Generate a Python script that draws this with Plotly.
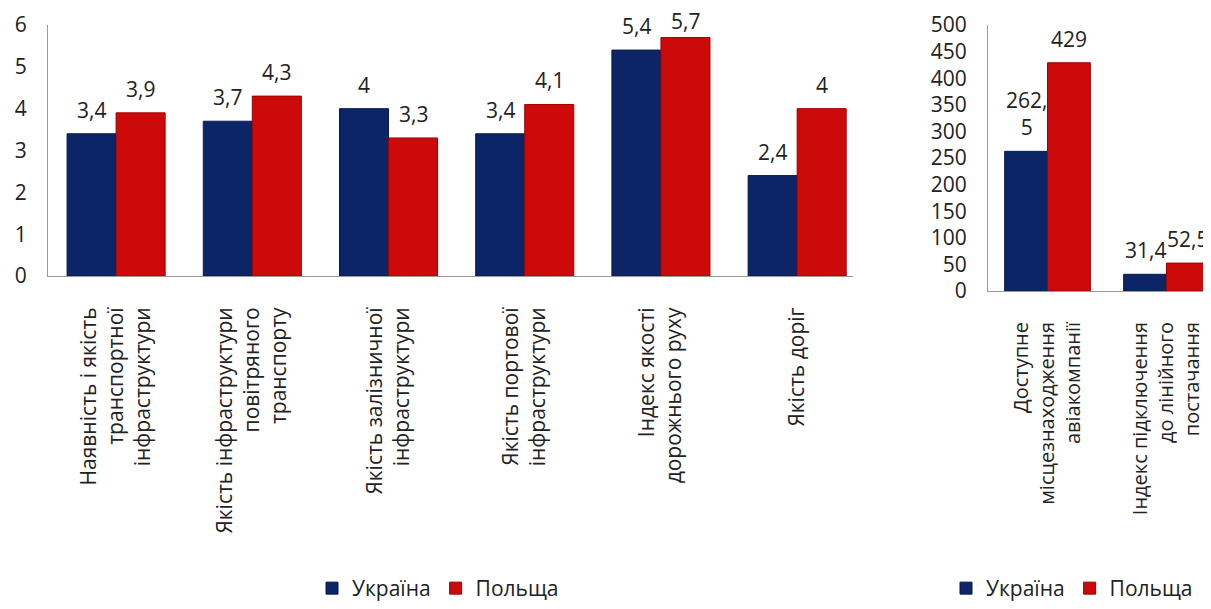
import plotly.graph_objects as go

# ---- data ----
left_categories = [
    "Наявність і якість<br>транспортної<br>інфраструктури",
    "Якість інфраструктури<br>повітряного<br>транспорту",
    "Якість залізничної<br>інфраструктури",
    "Якість портової<br>інфраструктури",
    "Індекс якості<br>дорожнього руху",
    "Якість доріг",
]
left_ukraine = [3.4, 3.7, 4.0, 3.4, 5.4, 2.4]
left_poland = [3.9, 4.3, 3.3, 4.1, 5.7, 4.0]

right_categories = [
    "Доступне<br>місцезнаходження<br>авіакомпанії",
    "Індекс підключення<br>до лінійного<br>постачання",
]
right_ukraine = [262.5, 31.4]
right_poland = [429, 52.5]
right_ukraine_labels = ["262,<br>5", "31,4"]

left_yticks = [0, 1, 2, 3, 4, 5, 6]
right_yticks = [0, 50, 100, 150, 200, 250, 300, 350, 400, 450, 500]

series_names = ["Україна", "Польща"]


def fmt(v):
    return f"{v:g}".replace(".", ",")


UKR = "#0b2566"
POL = "#cc0a0a"
UKR_LINE = "#061a4d"
POL_LINE = "#a00000"
FONT = "Open Sans"
FS = 21
TXT = "#222222"
AX = "#9a9a9a"

OFF = 8  # page body margin
W, H = 1211 - OFF, 609 - OFF
BARGAP = 0.28

# axis geometry (figure px)
L_X0, L_X1, L_RANGE = 48 - OFF, 853 - OFF, (-0.5, 5.41)
R_X0, R_X1, R_RANGE = 988 - OFF, W, (-0.5, 1.374)
TOP = 25 - OFF
L_BOT = 276 - OFF
R_BOT = 291 - OFF
L_YMAX, R_YMAX = 6, 500

fig = go.Figure()

bar_style = dict(cliponaxis=False, textposition="none")

fig.add_trace(go.Bar(x=left_categories, y=left_ukraine, name=series_names[0],
                     marker=dict(color=UKR, line=dict(color=UKR_LINE, width=1)),
                     xaxis="x", yaxis="y", legend="legend", **bar_style))
fig.add_trace(go.Bar(x=left_categories, y=left_poland, name=series_names[1],
                     marker=dict(color=POL, line=dict(color=POL_LINE, width=1)),
                     xaxis="x", yaxis="y", legend="legend", **bar_style))
fig.add_trace(go.Bar(x=right_categories, y=right_ukraine, name=series_names[0],
                     marker=dict(color=UKR, line=dict(color=UKR_LINE, width=1)),
                     xaxis="x2", yaxis="y2", legend="legend2", **bar_style))
fig.add_trace(go.Bar(x=right_categories, y=right_poland, name=series_names[1],
                     marker=dict(color=POL, line=dict(color=POL_LINE, width=1)),
                     xaxis="x2", yaxis="y2", legend="legend2", **bar_style))


# value labels: annotations anchored to each bar through the axes
def add_labels(cats, vals, labels, xref, yref, side, x0, x1, rng, bot, ymax):
    cat_px = (x1 - x0) / (rng[1] - rng[0])
    shift = side * cat_px * (1 - BARGAP) / 4
    for c, v, t in zip(cats, vals, labels):
        bar_top_px = TOP + (1 - v / ymax) * (bot - TOP)
        ys = min(9, bar_top_px - 28)  # keep labels inside the chart area
        fig.add_annotation(x=c, y=v, xref=xref, yref=yref, text=t,
                           showarrow=False, xanchor="center", yanchor="bottom",
                           xshift=shift, yshift=ys, borderpad=0,
                           font=dict(family=FONT, size=FS, color=TXT))


add_labels(left_categories, left_ukraine, [fmt(v) for v in left_ukraine],
           "x", "y", -1, L_X0, L_X1, L_RANGE, L_BOT, L_YMAX)
add_labels(left_categories, left_poland, [fmt(v) for v in left_poland],
           "x", "y", 1, L_X0, L_X1, L_RANGE, L_BOT, L_YMAX)
add_labels(right_categories, right_ukraine, right_ukraine_labels,
           "x2", "y2", -1, R_X0, R_X1, R_RANGE, R_BOT, R_YMAX)
add_labels(right_categories, right_poland, [fmt(v) for v in right_poland],
           "x2", "y2", 1, R_X0, R_X1, R_RANGE, R_BOT, R_YMAX)

xaxis_common = dict(showline=True, linecolor=AX, linewidth=1, showgrid=False,
                    ticks="", tickangle=-90, zeroline=False, automargin=False)
yaxis_common = dict(showline=True, linecolor=AX, linewidth=1, showgrid=False,
                    ticks="", zeroline=False, ticklabelstandoff=16, automargin=False,
                    tickfont=dict(family=FONT, size=FS, color=TXT))

fig.update_layout(
    width=W, height=H,
    margin=dict(l=0, r=0, t=0, b=0, autoexpand=False),
    paper_bgcolor="white", plot_bgcolor="white",
    barmode="group", bargap=BARGAP, bargroupgap=0,
    font=dict(family=FONT, size=FS, color=TXT),
    xaxis=dict(domain=[L_X0 / W, L_X1 / W], range=list(L_RANGE), anchor="y",
               ticklabelstandoff=22, tickfont=dict(family=FONT, size=FS, color=TXT),
               **xaxis_common),
    yaxis=dict(domain=[1 - L_BOT / H, 1 - TOP / H], range=[0, L_YMAX], anchor="x",
               tickvals=left_yticks, ticktext=[str(t) for t in left_yticks],
               **yaxis_common),
    xaxis2=dict(domain=[R_X0 / W, 1.0], range=list(R_RANGE), anchor="y2",
                ticklabelstandoff=22, tickfont=dict(family=FONT, size=20, color=TXT),
                **xaxis_common),
    yaxis2=dict(domain=[1 - R_BOT / H, 1 - TOP / H], range=[0, R_YMAX], anchor="x2",
                tickvals=right_yticks, ticktext=[str(t) for t in right_yticks],
                **yaxis_common),
    legend=dict(orientation="h", x=(438 - OFF) / W, xanchor="center", y=0.0,
                yanchor="bottom", font=dict(family=FONT, size=FS, color=TXT),
                bgcolor="rgba(0,0,0,0)", itemwidth=30),
    legend2=dict(orientation="h", x=(1072 - OFF) / W, xanchor="center", y=0.0,
                 yanchor="bottom", font=dict(family=FONT, size=FS, color=TXT),
                 bgcolor="rgba(0,0,0,0)", itemwidth=30),
    showlegend=True,
)

fig.write_html("out.html")
